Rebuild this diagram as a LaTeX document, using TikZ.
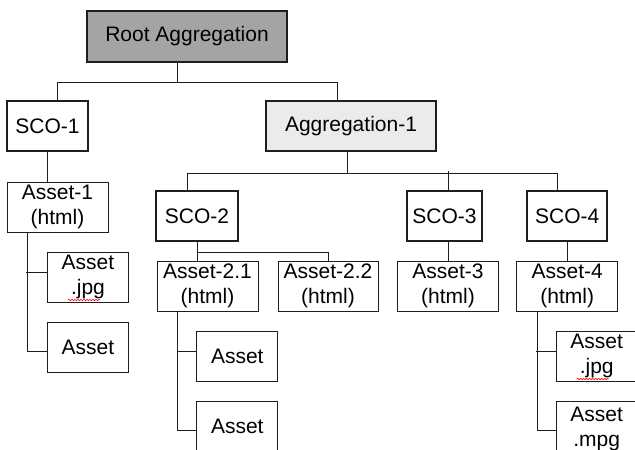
\documentclass[tikz,border=0pt]{standalone}
\usepackage{fontspec}
\setmainfont{Liberation Sans}
\usetikzlibrary{positioning, decorations.pathmorphing}
\definecolor{rootgray}{HTML}{A4A4A4}
\definecolor{agggray}{HTML}{EBEBEB}
\definecolor{inkgray}{HTML}{1E1E1E}
\tikzstyle{aggbox} = [rectangle, minimum height=50pt, inner sep=2pt, text centered, draw=inkgray, line width=2.2pt]
\tikzstyle{scobox} = [rectangle, minimum width=81pt, minimum height=50pt, inner sep=2pt, text centered, draw=inkgray, line width=2.2pt, fill=white]
\tikzstyle{assetbox} = [rectangle, minimum width=101pt, minimum height=50pt, inner sep=2pt, align=center, draw=inkgray, line width=0.9pt, fill=white]
\tikzstyle{leafbox} = [assetbox, minimum width=81pt]
\tikzstyle{link} = [draw=inkgray, line width=0.9pt]
\tikzstyle{typo} = [red, line width=0.6pt, decorate, decoration={snake, amplitude=0.7pt, segment length=3pt}]

\begin{document}
\begin{tikzpicture}[x=1pt, y=1pt, node distance=70pt, font=\fontsize{21}{24.5}\selectfont]

  \useasboundingbox (0,0) rectangle (635,-450);
  \fill[white] (0,0) rectangle (635,-450);
  \clip (0,0) rectangle (635,-450);

  \node (root) [aggbox, fill=rootgray, minimum width=200pt, minimum height=51pt] at (187,-36.5) {Root Aggregation};
  \node (sco1) [scobox, below of=root, xshift=-139.5pt, yshift=-19.5pt] {SCO-1};
  \node (agg1) [aggbox, fill=agggray, minimum width=170pt, below of=root, xshift=164pt, yshift=-19.5pt] {Aggregation-1};

  % left branch
  \node (asset1) [assetbox, below of=sco1, xshift=10pt, yshift=-11pt] {Asset-1\\(html)};
  \node (jpg1) [leafbox, below of=asset1, xshift=30.5pt] {Asset\\.jpg};
  \node (leaf1) [leafbox, below of=jpg1] {Asset};

  % SCO row under Aggregation-1
  \node (sco2) [scobox, minimum width=82pt, below of=agg1, xshift=-154pt, yshift=-20pt] {SCO-2};
  \node (sco3) [scobox, minimum width=75pt, below of=agg1, xshift=93.5pt, yshift=-20pt] {SCO-3};
  \node (sco4) [scobox, minimum width=80pt, below of=agg1, xshift=216.3pt, yshift=-20pt] {SCO-4};

  \node (asset21) [assetbox, below of=sco2, xshift=10.5pt] {Asset-2.1\\(html)};
  \node (asset22) [assetbox, minimum width=100pt, right of=asset21, xshift=50.5pt] {Asset-2.2\\(html)};
  \node (leaf21) [leafbox, below of=asset21, xshift=29.8pt] {Asset};
  \node (leaf22) [leafbox, below of=leaf21] {Asset};

  \node (asset3) [assetbox, below of=sco3, xshift=3.5pt] {Asset-3\\(html)};

  \node (asset4) [assetbox, below of=sco4] {Asset-4\\(html)};
  \node (jpg4) [leafbox, below of=asset4, xshift=29.4pt] {Asset\\.jpg};
  \node (mpg4) [leafbox, minimum height=56pt, below of=jpg4, yshift=-3pt] {Asset\\.mpg};

  % connectors
  \draw [link] ([xshift=-10pt]root.south) -- ++(0,-19pt) coordinate (rootbus);
  \draw [link] ([xshift=9.5pt]sco1.north) |- (rootbus) -| ([xshift=-14pt]agg1.north);

  \draw [link] (sco1.south) -- (sco1.south |- asset1.north);
  \draw [link] ([xshift=-30.5pt]asset1.south) |- ([yshift=-4pt]leaf1.west);
  \draw [link] ([yshift=5pt]jpg1.west) -- ++(-21pt,0);

  \draw [link] ([xshift=-3.3pt]agg1.south) -- ++(0,-21pt) coordinate (aggbus);
  \draw [link] ([xshift=-9.3pt]sco2.north) |- (aggbus) -| ([xshift=-10.3pt]sco4.north);
  \draw [link] ([xshift=3.5pt]sco3.north) -- ++(0,19pt);

  \draw [link] (sco2.south) -- (sco2.south |- asset21.north);
  \draw [link] ([yshift=-10.7pt]sco2.south) -| (asset22.north);
  \draw [link] ([xshift=-30.2pt]asset21.south) |- ([yshift=-4pt]leaf22.west);
  \draw [link] ([yshift=5pt]leaf21.west) -- ++(-19.5pt,0);

  \draw [link] (asset3.north) -- ++(0,21pt);

  \draw [link] (sco4) -- (asset4);
  \draw [link] ([xshift=-30pt]asset4.south) |- ([yshift=-1.7pt]mpg4.west);
  \draw [link] ([yshift=5pt]jpg4.west) -- ++(-19.5pt,0);

  % spell-check marks
  \draw [typo] ([shift={(-20pt,-23pt)}]jpg1.center) -- ++(32pt,0);
  \draw [typo] ([shift={(-20pt,-23pt)}]jpg4.center) -- ++(32pt,0);

\end{tikzpicture}
\end{document}
